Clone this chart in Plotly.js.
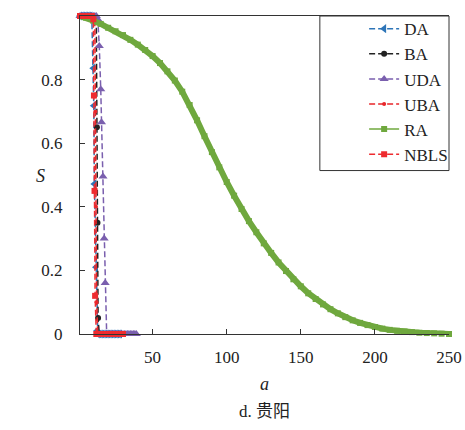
<!DOCTYPE html>
<html>
<head>
<meta charset="utf-8">
<script src="https://cdn.plot.ly/plotly-3.0.1.min.js"></script>
<style>html,body{margin:0;padding:0;background:#fff;}</style>
</head>
<body>
<div id="chart" style="width:465px;height:430px;"></div>
<script>
// ---- data ----
const seriesNames = ["DA", "BA", "UDA", "UBA", "RA", "NBLS"];

const DA_a = [1,2,3,4,5,6,7,8,9,10,10.3,10.7,11.8,12.5,13,14,15,16,17,18,19,20,21,22,23,24,25,26,27,28];
const DA_S = [1,1,1,1,1,1,1,1,0.99,0.836,0.718,0.472,0.21,0.01,0,0,0,0,0,0,0,0,0,0,0,0,0,0,0,0];

const BA_a = [1,2,3,4,5,6,7,8,9,10,11,12,12.4,12.8,13.2,14,15,16,17,18,19,20,21,22,23,24,25,26,27];
const BA_S = [1,1,1,1,1,1,1,1,1,1,1,0.99,0.65,0.35,0.05,0,0,0,0,0,0,0,0,0,0,0,0,0,0];

const UDA_a = [1,2,3,4,5,6,7,8,9,10,11,12,13,14,15,15.5,16.5,17.3,18,19,20,21,22,23,24,25,26,27,28,29,30,31,32,33,34,35,36,37,38,39];
const UDA_S = [1,1,1,1,1,1,1,1,1,1,1,1,0.99,0.906,0.77,0.666,0.495,0.30,0.16,0,0,0,0,0,0,0,0,0,0,0,0,0,0,0,0,0,0,0,0,0];

const UBA_a = [1,2,3,4,5,6,7,8,9,10,11,11.4,11.8,12.2,13,14,15,16,17,18,19,20,21,22,23,24,25,26,27,28,29];
const UBA_S = [1,1,1,1,1,1,1,1,1,1,0.99,0.7,0.4,0.1,0,0,0,0,0,0,0,0,0,0,0,0,0,0,0,0,0];

const RA_a = [1,5,10,15,20,25,30,35,40,45,50,55,60,65,70,75,80,85,90,95,100,105,110,115,120,125,130,135,140,145,150,155,160,165,170,175,180,185,190,195,200,205,210,215,220,225,230,235,240,245,250];
const RA_S = [1,0.995,0.985,0.975,0.963,0.952,0.94,0.925,0.91,0.893,0.874,0.852,0.826,0.797,0.762,0.72,0.672,0.622,0.572,0.524,0.478,0.435,0.393,0.355,0.32,0.285,0.255,0.225,0.198,0.172,0.15,0.128,0.11,0.093,0.078,0.065,0.053,0.043,0.035,0.028,0.022,0.017,0.013,0.01,0.008,0.006,0.004,0.003,0.002,0.001,0];

const NBLS_a = [1,2,3,4,5,6,7,8,9,10,10.4,10.8,11.2,12,13,14,15,16,17,18,19,20,21,22,23,24,25,26,27,28,29,30];
const NBLS_S = [1,1,1,1,1,1,1,1,1,0.99,0.75,0.45,0.12,0,0,0,0,0,0,0,0,0,0,0,0,0,0,0,0,0,0,0];

const xTicks = [50, 100, 150, 200, 250];
const yTicks = [0, 0.2, 0.4, 0.6, 0.8];
const yTickText = ["0", "0.2", "0.4", "0.6", "0.8"];

// ---- styles ----
const serif = "Liberation Serif";
const dashPat = "6px,3px";

function tr(name, x, y, color, symbol, size, dash, width, showLeg) {
  return {
    type: "scatter", mode: "lines+markers", name: name, x: x, y: y,
    cliponaxis: false, showlegend: showLeg,
    line: {color: color, width: width, dash: dash},
    marker: {color: color, symbol: symbol, size: size}
  };
}

const raColor = "#6fa83e";
const data = [
  tr(seriesNames[0], DA_a, DA_S, "#2d75b8", "triangle-left", 8, dashPat, 1.5, true),
  tr(seriesNames[1], BA_a, BA_S, "#222222", "circle", 6, dashPat, 1.5, true),
  tr(seriesNames[2], UDA_a, UDA_S, "#7a5fae", "triangle-up", 8, dashPat, 1.5, true),
  tr(seriesNames[3], UBA_a, UBA_S, "#e8262a", "circle", 4, dashPat, 1.5, true),
  tr(seriesNames[4], RA_a, RA_S, raColor, "square", 6, "solid", 6, false),
  // legend-only entry for RA (thin line)
  tr(seriesNames[4], [null], [null], raColor, "square", 6, "solid", 1.5, true),
  tr(seriesNames[5], NBLS_a, NBLS_S, "#ee2b2f", "square", 6, dashPat, 1.5, true)
];

const tickFont = {family: serif, size: 17, color: "#222"};

const layout = {
  width: 465, height: 430,
  margin: {l: 80, r: 16, t: 15, b: 96},
  paper_bgcolor: "#fff", plot_bgcolor: "#fff",
  font: {family: serif, size: 17, color: "#222"},
  showlegend: true,
  legend: {
    x: 0.77, xanchor: "left", y: 1.012, yanchor: "top",
    bgcolor: "rgba(0,0,0,0)", borderwidth: 0,
    font: {family: serif, size: 17, color: "#222"},
    tracegroupgap: 0
  },
  xaxis: {
    range: [1, 250], tickvals: xTicks, ticktext: xTicks.map(String),
    tickfont: tickFont,
    ticks: "inside", ticklen: 5, tickcolor: "#333",
    showline: true, linecolor: "#333", linewidth: 1, mirror: true,
    showgrid: false, zeroline: false,
    ticklabelstandoff: 8,
    title: {text: "<i>a</i>", font: {family: serif, size: 18}, standoff: 10}
  },
  yaxis: {
    range: [0, 1], tickvals: yTicks, ticktext: yTickText,
    tickfont: tickFont,
    ticks: "inside", ticklen: 5, tickcolor: "#333",
    showline: true, linecolor: "#333", linewidth: 1, mirror: false,
    showgrid: false, zeroline: false,
    ticklabelstandoff: 13
  },
  shapes: [{
    type: "rect", xref: "paper", yref: "paper",
    x0: 0.65, x1: 1, y0: 0.514, y1: 1,
    line: {color: "#333", width: 1}, fillcolor: "rgba(255,255,255,1)", layer: "below"
  }],
  annotations: [
    {
      text: "<i>S</i>", xref: "paper", yref: "paper", x: -0.106, y: 0.498,
      xanchor: "center", yanchor: "middle", showarrow: false,
      font: {family: serif, size: 18, color: "#222"}
    },
    {
      text: "d. 贵阳", xref: "paper", yref: "paper", x: 0.5, y: -0.245,
      xanchor: "center", yanchor: "middle", showarrow: false,
      font: {family: "Liberation Serif, Noto Sans CJK SC", size: 17, color: "#222"}
    }
  ]
};

Plotly.newPlot("chart", data, layout, {displayModeBar: false, staticPlot: true});
</script>
</body>
</html>
